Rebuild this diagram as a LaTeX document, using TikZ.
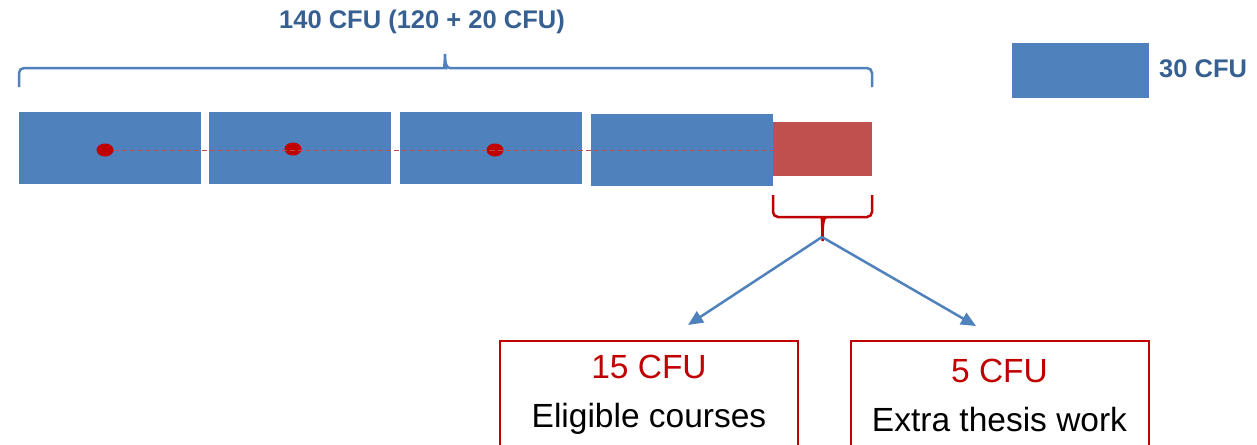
\documentclass[tikz,border=0pt]{standalone}
\usepackage{fontspec}
\setmainfont{Liberation Sans}
\usetikzlibrary{arrows.meta,shapes.geometric}
\definecolor{barblue}{RGB}{79,129,189}
\definecolor{barred}{RGB}{192,80,77}
\definecolor{darkred}{RGB}{192,0,0}
\definecolor{titleblue}{RGB}{55,96,146}

\begin{document}
\begin{tikzpicture}
[every node/.style={inner sep=0pt},
 year/.style={rectangle, minimum width=182pt, minimum height=72pt, fill=barblue},
 dot/.style={ellipse, minimum width=17pt, minimum height=13pt, fill=darkred},
 heading/.style={font=\bfseries\fontsize{25.5}{30}\selectfont, text=titleblue},
 choice/.style={rectangle, draw=darkred, line width=2pt, minimum width=298pt, minimum height=108pt, align=center, font=\fontsize{33.5}{49}\selectfont},
 flow/.style={line width=2.5pt, color=barblue, -{Triangle[length=15pt, width=13pt]}}]
\useasboundingbox (0pt,0pt) rectangle (1257pt,-444pt);
\node (total) [heading] at (422.0pt, -22.0pt) {140 CFU (120 + 20 CFU)};
\node (legend) [rectangle, minimum width=137pt, minimum height=55pt, fill=barblue] at (1080.5pt, -70.5pt) {};
\node (legendtext) [heading, anchor=west] at (1159.0pt, -69.0pt) {30 CFU};
\node (y1) [year] at (110.0pt, -148.0pt) {};
\node (y2) [year] at (300.0pt, -148.0pt) {};
\node (y3) [year] at (491.0pt, -148.0pt) {};
\node (y4) [year] at (682.0pt, -149.5pt) {};
\node (extra) [rectangle, minimum width=99pt, minimum height=54pt, fill=barred] at (822.5pt, -149.0pt) {};
\node (d1) [dot] at (105.0pt, -150.0pt) {};
\node (d2) [dot] at (293.0pt, -149.0pt) {};
\node (d3) [dot] at (495.0pt, -150.0pt) {};
\draw [line width=1pt, color=barred, dash pattern=on 5pt off 3pt] (d1.east) -- (d1.east -| y4.east);
\draw [line width=2.5pt, color=barblue, rounded corners=5pt] (19pt,-87pt) |- (440pt,-68pt) [sharp corners] .. controls (443.5pt,-68pt) and (445pt,-64pt) .. (445pt,-54pt) .. controls (445pt,-64pt) and (446.5pt,-68pt) .. (450pt,-68pt) [rounded corners=5pt] -| (872pt,-87pt);
\draw [line width=2.5pt, color=darkred, rounded corners=5pt] (773pt,-195pt) |- (818pt,-217pt) [sharp corners] .. controls (821pt,-217pt) and (822.5pt,-220pt) .. (822.5pt,-241pt) .. controls (822.5pt,-220pt) and (824pt,-217pt) .. (827pt,-217pt) [rounded corners=5pt] -| (872pt,-195pt);
\coordinate (split) at (822.0pt, -237.0pt);
\coordinate (toleft) at (688.0pt, -325.0pt);
\coordinate (toright) at (976.0pt, -326.0pt);
\draw [flow] (split) -- (toleft);
\draw [flow] (split) -- (toright);
\node (courses) [choice] at (649.0pt, -395.0pt) {\textcolor{darkred}{15 CFU}\\Eligible courses};
\node (thesis) [choice] at (999.5pt, -395.0pt) {\textcolor{darkred}{5 CFU}\\Extra thesis work};

\end{tikzpicture}
\end{document}
